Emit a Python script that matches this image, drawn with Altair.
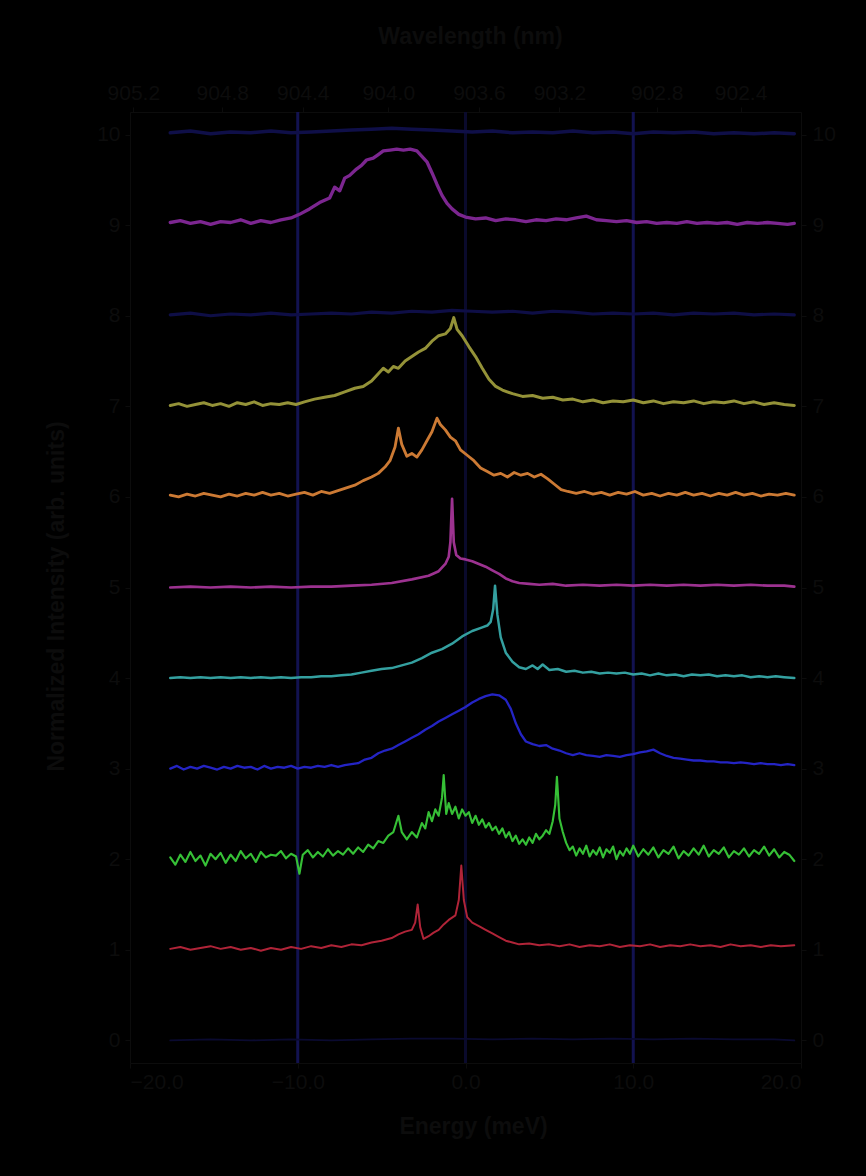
import altair as alt
import pandas as pd

# ---- spectra: (energy offset in meV, normalized signal) pairs, one list per trace ----
trace_10 = [(-17.6, 0.02), (-16.4, 0.04), (-15.2, 0.01), (-14.0, 0.03), (-12.8, 0.02), (-11.6, 0.04),
            (-10.4, 0.02), (-9.2, 0.03), (-8.0, 0.04), (-6.8, 0.05), (-5.6, 0.06), (-4.4, 0.07),
            (-3.2, 0.06), (-2.0, 0.05), (-0.8, 0.04), (0.4, 0.03), (1.6, 0.04), (2.8, 0.02),
            (4.0, 0.03), (5.2, 0.02), (6.4, 0.04), (7.6, 0.02), (8.8, 0.03), (10.0, 0.01),
            (11.2, 0.03), (12.4, 0.02), (13.6, 0.03), (14.8, 0.01), (16.0, 0.02), (17.2, 0.01),
            (18.4, 0.02), (19.6, 0.01)]

trace_9 = [(-17.6, 0.03), (-17.0, 0.05), (-16.4, 0.02), (-15.8, 0.04), (-15.2, 0.01), (-14.6, 0.04),
           (-14.0, 0.03), (-13.4, 0.06), (-12.8, 0.02), (-12.2, 0.05), (-11.6, 0.03), (-11.0, 0.06),
           (-10.4, 0.08), (-9.9, 0.12), (-9.3, 0.18), (-8.7, 0.25), (-8.1, 0.30), (-7.8, 0.42),
           (-7.5, 0.38), (-7.2, 0.52), (-6.9, 0.55), (-6.5, 0.62), (-6.2, 0.66), (-5.9, 0.72),
           (-5.5, 0.74), (-5.2, 0.78), (-4.9, 0.82), (-4.5, 0.83), (-4.1, 0.84), (-3.7, 0.83),
           (-3.3, 0.84), (-2.9, 0.82), (-2.6, 0.76), (-2.3, 0.70), (-2.0, 0.58), (-1.7, 0.45),
           (-1.4, 0.33), (-1.1, 0.24), (-0.8, 0.18), (-0.4, 0.12), (0.0, 0.09), (0.6, 0.07),
           (1.2, 0.08), (1.8, 0.05), (2.4, 0.07), (3.0, 0.06), (3.6, 0.04), (4.2, 0.06),
           (4.8, 0.05), (5.4, 0.07), (6.0, 0.06), (6.6, 0.08), (7.2, 0.10), (7.8, 0.06),
           (8.4, 0.05), (9.0, 0.04), (9.6, 0.05), (10.2, 0.03), (10.8, 0.04), (11.4, 0.02),
           (12.0, 0.03), (12.6, 0.02), (13.2, 0.04), (13.8, 0.02), (14.4, 0.03), (15.0, 0.02),
           (15.6, 0.03), (16.2, 0.01), (16.8, 0.03), (17.4, 0.02), (18.0, 0.03), (18.6, 0.02),
           (19.2, 0.01), (19.6, 0.02)]

trace_8 = [(-17.6, 0.01), (-16.4, 0.03), (-15.2, 0.00), (-14.0, 0.02), (-12.8, 0.01), (-11.6, 0.03),
           (-10.4, 0.01), (-9.2, 0.02), (-8.0, 0.03), (-6.8, 0.02), (-5.6, 0.04), (-4.4, 0.03),
           (-3.2, 0.05), (-2.0, 0.04), (-0.8, 0.06), (0.4, 0.05), (1.6, 0.04), (2.8, 0.05),
           (4.0, 0.03), (5.2, 0.05), (6.4, 0.04), (7.6, 0.02), (8.8, 0.03), (10.0, 0.02),
           (11.2, 0.03), (12.4, 0.01), (13.6, 0.03), (14.8, 0.02), (16.0, 0.03), (17.2, 0.01),
           (18.4, 0.02), (19.6, 0.01)]

trace_7 = [(-17.6, 0.01), (-17.1, 0.03), (-16.6, 0.00), (-16.1, 0.02), (-15.6, 0.04), (-15.1, 0.01),
           (-14.6, 0.03), (-14.1, 0.00), (-13.6, 0.04), (-13.1, 0.02), (-12.6, 0.05), (-12.1, 0.01),
           (-11.6, 0.03), (-11.1, 0.02), (-10.6, 0.04), (-10.1, 0.02), (-9.6, 0.05), (-9.0, 0.08),
           (-8.4, 0.10), (-7.8, 0.12), (-7.2, 0.16), (-6.6, 0.20), (-6.1, 0.22), (-5.6, 0.28),
           (-5.2, 0.36), (-4.9, 0.42), (-4.6, 0.38), (-4.3, 0.44), (-4.0, 0.42), (-3.6, 0.50),
           (-3.2, 0.55), (-2.8, 0.60), (-2.4, 0.64), (-2.0, 0.72), (-1.6, 0.78), (-1.2, 0.80),
           (-0.9, 0.86), (-0.7, 0.98), (-0.5, 0.85), (-0.2, 0.78), (0.2, 0.66), (0.6, 0.55),
           (1.0, 0.42), (1.4, 0.30), (1.8, 0.22), (2.2, 0.18), (2.8, 0.14), (3.4, 0.11),
           (4.0, 0.12), (4.6, 0.09), (5.2, 0.10), (5.8, 0.07), (6.4, 0.08), (7.0, 0.05),
           (7.6, 0.07), (8.2, 0.04), (8.8, 0.06), (9.4, 0.05), (10.0, 0.07), (10.6, 0.04),
           (11.2, 0.06), (11.8, 0.03), (12.4, 0.05), (13.0, 0.04), (13.6, 0.06), (14.2, 0.03),
           (14.8, 0.05), (15.4, 0.04), (16.0, 0.06), (16.6, 0.03), (17.2, 0.05), (17.8, 0.02),
           (18.4, 0.04), (19.0, 0.02), (19.6, 0.01)]

trace_6 = [(-17.6, 0.02), (-17.1, 0.00), (-16.6, 0.03), (-16.1, 0.01), (-15.6, 0.04), (-15.1, 0.02),
           (-14.6, 0.00), (-14.1, 0.03), (-13.6, 0.01), (-13.1, 0.04), (-12.6, 0.02), (-12.1, 0.05),
           (-11.6, 0.02), (-11.1, 0.04), (-10.6, 0.01), (-10.1, 0.03), (-9.6, 0.05), (-9.1, 0.02),
           (-8.6, 0.06), (-8.1, 0.04), (-7.6, 0.07), (-7.1, 0.10), (-6.6, 0.13), (-6.1, 0.18),
           (-5.6, 0.22), (-5.2, 0.26), (-4.8, 0.33), (-4.5, 0.40), (-4.2, 0.55), (-4.0, 0.76),
           (-3.8, 0.58), (-3.5, 0.45), (-3.2, 0.48), (-2.9, 0.44), (-2.6, 0.52), (-2.3, 0.62),
           (-2.0, 0.72), (-1.7, 0.87), (-1.5, 0.80), (-1.2, 0.74), (-0.9, 0.66), (-0.6, 0.62),
           (-0.3, 0.52), (0.1, 0.46), (0.5, 0.40), (0.9, 0.32), (1.3, 0.28), (1.7, 0.24),
           (2.1, 0.26), (2.5, 0.22), (2.9, 0.27), (3.3, 0.24), (3.7, 0.26), (4.1, 0.22),
           (4.5, 0.25), (4.9, 0.20), (5.3, 0.14), (5.7, 0.08), (6.1, 0.06), (6.6, 0.04),
           (7.1, 0.06), (7.6, 0.03), (8.1, 0.05), (8.6, 0.02), (9.1, 0.05), (9.6, 0.03),
           (10.1, 0.06), (10.6, 0.02), (11.1, 0.04), (11.6, 0.01), (12.1, 0.04), (12.6, 0.02),
           (13.1, 0.05), (13.6, 0.02), (14.1, 0.04), (14.6, 0.01), (15.1, 0.04), (15.6, 0.02),
           (16.1, 0.05), (16.6, 0.02), (17.1, 0.04), (17.6, 0.01), (18.1, 0.03), (18.6, 0.02),
           (19.1, 0.04), (19.6, 0.02)]

trace_5 = [(-17.6, 0.00), (-16.4, 0.01), (-15.2, 0.00), (-14.0, 0.01), (-12.8, 0.00), (-11.6, 0.01),
           (-10.4, 0.00), (-9.2, 0.01), (-8.0, 0.01), (-6.8, 0.02), (-5.6, 0.03), (-4.4, 0.05),
           (-3.2, 0.09), (-2.2, 0.13), (-1.6, 0.18), (-1.2, 0.26), (-1.0, 0.34), (-0.9, 0.50),
           (-0.8, 0.98), (-0.7, 0.50), (-0.55, 0.36), (-0.3, 0.32), (0.0, 0.31), (0.4, 0.29),
           (0.8, 0.26), (1.2, 0.23), (1.6, 0.19), (2.0, 0.15), (2.4, 0.10), (2.8, 0.07),
           (3.2, 0.05), (3.8, 0.04), (4.4, 0.03), (5.2, 0.04), (6.0, 0.02), (7.0, 0.03),
           (8.0, 0.02), (9.0, 0.03), (10.0, 0.02), (11.0, 0.03), (12.0, 0.02), (13.0, 0.03),
           (14.0, 0.02), (15.0, 0.03), (16.0, 0.02), (17.0, 0.03), (18.0, 0.02), (19.0, 0.02),
           (19.6, 0.01)]

trace_4 = [(-17.6, 0.00), (-17.0, 0.01), (-16.4, 0.00), (-15.8, 0.01), (-15.2, 0.00), (-14.6, 0.01),
           (-14.0, 0.00), (-13.4, 0.01), (-12.8, 0.00), (-12.2, 0.01), (-11.6, 0.00), (-11.0, 0.01),
           (-10.4, 0.00), (-9.8, 0.01), (-9.2, 0.01), (-8.6, 0.02), (-8.0, 0.02), (-7.4, 0.03),
           (-6.8, 0.04), (-6.2, 0.06), (-5.6, 0.08), (-5.0, 0.10), (-4.4, 0.11), (-3.8, 0.14),
           (-3.2, 0.17), (-2.6, 0.22), (-2.0, 0.28), (-1.4, 0.32), (-0.8, 0.38), (-0.2, 0.46),
           (0.4, 0.52), (1.0, 0.56), (1.3, 0.58), (1.5, 0.62), (1.65, 0.76), (1.76, 1.02),
           (1.9, 0.70), (2.1, 0.45), (2.4, 0.28), (2.8, 0.18), (3.2, 0.12), (3.6, 0.10),
           (4.0, 0.14), (4.3, 0.10), (4.6, 0.15), (5.0, 0.09), (5.5, 0.10), (6.0, 0.07),
           (6.5, 0.08), (7.0, 0.06), (7.5, 0.07), (8.0, 0.05), (8.5, 0.06), (9.0, 0.05),
           (9.5, 0.06), (10.0, 0.04), (10.5, 0.05), (11.0, 0.03), (11.5, 0.05), (12.0, 0.03),
           (12.5, 0.04), (13.0, 0.02), (13.5, 0.04), (14.0, 0.03), (14.5, 0.04), (15.0, 0.02),
           (15.5, 0.03), (16.0, 0.02), (16.5, 0.03), (17.0, 0.01), (17.5, 0.02), (18.0, 0.01),
           (18.5, 0.02), (19.0, 0.01), (19.6, 0.00)]

trace_3 = [(-17.6, 0.00), (-17.2, 0.03), (-16.8, -0.01), (-16.4, 0.02), (-16.0, 0.00), (-15.6, 0.03),
           (-15.2, 0.01), (-14.8, -0.01), (-14.4, 0.02), (-14.0, 0.00), (-13.6, 0.03), (-13.2, 0.01),
           (-12.8, 0.02), (-12.4, -0.01), (-12.0, 0.03), (-11.6, 0.00), (-11.2, 0.02), (-10.8, 0.01),
           (-10.4, 0.03), (-10.0, 0.00), (-9.6, 0.02), (-9.2, 0.01), (-8.8, 0.03), (-8.4, 0.02),
           (-8.0, 0.04), (-7.6, 0.02), (-7.2, 0.04), (-6.8, 0.05), (-6.4, 0.06), (-6.0, 0.10),
           (-5.6, 0.12), (-5.2, 0.17), (-4.8, 0.20), (-4.4, 0.22), (-4.0, 0.26), (-3.6, 0.30),
           (-3.2, 0.34), (-2.8, 0.38), (-2.4, 0.43), (-2.0, 0.47), (-1.6, 0.52), (-1.2, 0.56),
           (-0.8, 0.60), (-0.4, 0.64), (0.0, 0.68), (0.4, 0.73), (0.8, 0.77), (1.2, 0.80),
           (1.6, 0.82), (2.0, 0.81), (2.4, 0.76), (2.7, 0.66), (3.0, 0.50), (3.3, 0.38),
           (3.6, 0.30), (4.0, 0.27), (4.4, 0.25), (4.8, 0.26), (5.2, 0.22), (5.6, 0.20),
           (6.0, 0.17), (6.4, 0.15), (6.8, 0.17), (7.2, 0.15), (7.6, 0.14), (8.0, 0.13),
           (8.4, 0.15), (8.8, 0.14), (9.2, 0.13), (9.6, 0.15), (10.0, 0.16), (10.4, 0.18),
           (10.8, 0.19), (11.2, 0.21), (11.6, 0.17), (12.0, 0.14), (12.4, 0.12), (12.8, 0.11),
           (13.2, 0.10), (13.6, 0.09), (14.0, 0.09), (14.4, 0.08), (14.8, 0.08), (15.2, 0.07),
           (15.6, 0.07), (16.0, 0.06), (16.4, 0.07), (16.8, 0.06), (17.2, 0.05), (17.6, 0.06),
           (18.0, 0.05), (18.4, 0.05), (18.8, 0.04), (19.2, 0.05), (19.6, 0.04)]

trace_2 = [(-17.6, 0.02), (-17.3, -0.06), (-17.0, 0.05), (-16.7, -0.03), (-16.4, 0.08), (-16.1, -0.02),
           (-15.8, 0.04), (-15.5, -0.07), (-15.2, 0.06), (-14.9, 0.00), (-14.6, 0.07), (-14.3, -0.04),
           (-14.0, 0.05), (-13.7, -0.02), (-13.4, 0.09), (-13.1, 0.01), (-12.8, 0.06), (-12.5, -0.03),
           (-12.2, 0.08), (-11.9, 0.02), (-11.6, 0.05), (-11.3, 0.04), (-11.0, 0.09), (-10.7, 0.01),
           (-10.4, 0.06), (-10.1, 0.03), (-9.9, -0.16), (-9.7, 0.05), (-9.4, 0.10), (-9.1, 0.02),
           (-8.8, 0.08), (-8.5, 0.03), (-8.2, 0.11), (-7.9, 0.04), (-7.6, 0.09), (-7.3, 0.05),
           (-7.0, 0.12), (-6.7, 0.06), (-6.4, 0.13), (-6.1, 0.08), (-5.8, 0.16), (-5.5, 0.12),
           (-5.2, 0.20), (-4.9, 0.18), (-4.6, 0.26), (-4.3, 0.30), (-4.0, 0.48), (-3.8, 0.30),
           (-3.5, 0.22), (-3.2, 0.30), (-2.9, 0.24), (-2.6, 0.40), (-2.4, 0.34), (-2.2, 0.52),
           (-2.0, 0.42), (-1.8, 0.55), (-1.6, 0.48), (-1.4, 0.68), (-1.3, 0.93), (-1.15, 0.50),
           (-1.0, 0.62), (-0.8, 0.50), (-0.6, 0.58), (-0.4, 0.45), (-0.2, 0.55), (0.0, 0.48),
           (0.2, 0.52), (0.4, 0.40), (0.6, 0.48), (0.8, 0.38), (1.0, 0.44), (1.2, 0.35),
           (1.4, 0.40), (1.6, 0.32), (1.8, 0.36), (2.0, 0.28), (2.2, 0.34), (2.4, 0.24),
           (2.6, 0.30), (2.8, 0.20), (3.0, 0.26), (3.2, 0.17), (3.4, 0.22), (3.6, 0.16),
           (3.8, 0.24), (4.0, 0.18), (4.2, 0.28), (4.4, 0.22), (4.6, 0.26), (4.8, 0.32),
           (5.0, 0.28), (5.2, 0.42), (5.35, 0.60), (5.45, 0.91), (5.6, 0.45), (5.8, 0.30),
           (6.0, 0.18), (6.2, 0.10), (6.4, 0.14), (6.6, 0.04), (6.8, 0.12), (7.0, 0.06),
           (7.2, 0.15), (7.4, 0.03), (7.6, 0.10), (7.8, 0.05), (8.0, 0.13), (8.2, 0.02),
           (8.4, 0.11), (8.6, 0.07), (8.8, 0.14), (9.0, 0.00), (9.2, 0.09), (9.4, 0.04),
           (9.6, 0.12), (9.8, 0.06), (10.0, 0.15), (10.3, 0.03), (10.6, 0.11), (10.9, 0.05),
           (11.2, 0.13), (11.5, 0.02), (11.8, 0.10), (12.1, 0.06), (12.4, 0.14), (12.7, 0.01),
           (13.0, 0.09), (13.3, 0.04), (13.6, 0.12), (13.9, 0.05), (14.2, 0.15), (14.5, 0.03),
           (14.8, 0.10), (15.1, 0.06), (15.4, 0.13), (15.7, 0.02), (16.0, 0.09), (16.3, 0.05),
           (16.6, 0.12), (16.9, 0.03), (17.2, 0.10), (17.5, 0.06), (17.8, 0.14), (18.1, 0.04),
           (18.4, 0.11), (18.7, 0.02), (19.0, 0.08), (19.3, 0.05), (19.6, -0.02)]

trace_1 = [(-17.6, 0.01), (-17.0, 0.03), (-16.4, 0.00), (-15.8, 0.02), (-15.2, 0.04), (-14.6, 0.01),
           (-14.0, 0.03), (-13.4, 0.00), (-12.8, 0.02), (-12.2, -0.01), (-11.6, 0.02), (-11.0, 0.00),
           (-10.4, 0.03), (-9.8, 0.01), (-9.2, 0.04), (-8.6, 0.02), (-8.0, 0.05), (-7.4, 0.03),
           (-6.8, 0.06), (-6.2, 0.05), (-5.6, 0.08), (-5.0, 0.10), (-4.4, 0.13), (-4.0, 0.17),
           (-3.6, 0.20), (-3.2, 0.22), (-3.0, 0.30), (-2.85, 0.50), (-2.7, 0.25), (-2.5, 0.12),
           (-2.2, 0.15), (-1.9, 0.19), (-1.6, 0.22), (-1.3, 0.28), (-1.0, 0.33), (-0.6, 0.38),
           (-0.4, 0.55), (-0.25, 0.93), (-0.1, 0.55), (0.1, 0.36), (0.4, 0.30), (0.8, 0.26),
           (1.2, 0.22), (1.6, 0.18), (2.0, 0.14), (2.4, 0.10), (2.8, 0.08), (3.2, 0.06),
           (3.8, 0.07), (4.4, 0.05), (5.0, 0.06), (5.6, 0.04), (6.2, 0.06), (6.8, 0.03),
           (7.4, 0.05), (8.0, 0.04), (8.6, 0.06), (9.2, 0.03), (9.8, 0.05), (10.4, 0.04),
           (11.0, 0.06), (11.6, 0.03), (12.2, 0.05), (12.8, 0.04), (13.4, 0.06), (14.0, 0.04),
           (14.6, 0.05), (15.2, 0.03), (15.8, 0.06), (16.4, 0.04), (17.0, 0.05), (17.6, 0.03),
           (18.2, 0.05), (18.8, 0.04), (19.6, 0.05)]

trace_0 = [(-17.6, 0.00), (-15.2, 0.01), (-12.8, 0.00), (-10.4, 0.01), (-8.0, 0.00), (-5.6, 0.01),
           (-3.2, 0.02), (-0.8, 0.02), (1.6, 0.01), (4.0, 0.02), (6.4, 0.01), (8.8, 0.02),
           (11.2, 0.01), (13.6, 0.02), (16.0, 0.01), (18.4, 0.01), (19.6, 0.00)]

traces = [trace_10, trace_9, trace_8, trace_7, trace_6, trace_5,
          trace_4, trace_3, trace_2, trace_1, trace_0]
offsets = [10, 9, 8, 7, 6, 5, 4, 3, 2, 1, 0]
series_names = ["S10", "S9", "S8", "S7", "S6", "S5", "S4", "S3", "S2", "S1", "S0"]
series_colors = ["#0f0f48", "#7c2690", "#0e0e46", "#949238", "#cc7a34", "#9c3290",
                 "#34a0a0", "#2424c4", "#36c036", "#b02438", "#0a0a30"]
series_widths = [3.5, 1.8, 3.5, 1.8, 1.8, 1.8, 1.8, 3.0, 1.6, 1.8, 3.5]

# ---- axis ticks and reference lines ----
y_ticks = list(range(0, 11))
bottom_ticks = [-20, -10, 0, 10, 20]
top_tick_pos = [-19.8, -14.5, -9.7, -4.6, 0.8, 5.6, 11.4, 16.4]
top_tick_labels = ["905.2", "904.8", "904.4", "904.0", "903.6", "903.2", "902.8", "902.4"]
marker_lines = [-10, 10]
center_line = [0]

TEXT = "#0c0c0c"
MARKER = "#121250"
FONT = "Liberation Sans"

rows = []
for name, off, pts in zip(series_names, offsets, traces):
    for x, v in pts:
        rows.append({"series": name, "energy": x, "signal": v + off})
df = pd.DataFrame(rows)

x_scale = alt.Scale(domain=[-20, 20], nice=False, zero=False)
y_scale = alt.Scale(domain=[-0.25, 10.25], nice=False, zero=False)

color_enc = alt.Color("series:N", scale=alt.Scale(domain=series_names, range=series_colors), legend=None)
width_enc = alt.StrokeWidth("series:N", scale=alt.Scale(domain=series_names, range=series_widths),
                            legend=None)

axis_common = dict(labelColor=TEXT, titleColor=TEXT, tickColor=TEXT, domainColor=TEXT,
                   labelFont=FONT, titleFont=FONT, labelFontSize=21, titleFontSize=23,
                   titleFontWeight="bold", tickSize=5, grid=False)

# top-axis label lookup built from the tick lists
top_expr = "''"
for p, lab in reversed(list(zip(top_tick_pos, top_tick_labels))):
    top_expr = f"abs(datum.value - ({p})) < 0.05 ? '{lab}' : {top_expr}"

markers = alt.Chart(pd.DataFrame({"energy": marker_lines})).mark_rule(
    color=MARKER, strokeWidth=3
).encode(x=alt.X("energy:Q", scale=x_scale, axis=None))

center = alt.Chart(pd.DataFrame({"energy": center_line})).mark_rule(
    color="#0a0a2c", strokeWidth=3
).encode(x=alt.X("energy:Q", scale=x_scale, axis=None))

lines = alt.Chart(df).mark_line(strokeCap="round", strokeJoin="round").encode(
    x=alt.X("energy:Q", scale=x_scale,
            axis=alt.Axis(orient="bottom", values=bottom_ticks, format=".1f",
                          title="Energy (meV)", labelPadding=3, titleX=343, titleY=63,
                          titleBaseline="middle", **axis_common)),
    y=alt.Y("signal:Q", scale=y_scale,
            axis=alt.Axis(orient="left", values=y_ticks,
                          title="Normalized Intensity (arb. units)", labelPadding=5,
                          titleX=-74, titleY=484, titleAngle=270, titleAlign="center",
                          titleBaseline="middle", **axis_common)),
    color=color_enc,
    strokeWidth=width_enc,
    detail="series:N",
)

top_axis = alt.Chart(df).mark_line(strokeOpacity=0).encode(
    x=alt.X("energy:Q", scale=x_scale,
            axis=alt.Axis(orient="top", values=top_tick_pos, labelExpr=top_expr,
                          title="Wavelength (nm)", labelPadding=4,
                          titleX=340, titleY=-76, titleBaseline="middle", **axis_common)),
    y=alt.Y("signal:Q", scale=y_scale, axis=None),
    detail="series:N",
)

right_axis = alt.Chart(df).mark_line(strokeOpacity=0).encode(
    x=alt.X("energy:Q", scale=x_scale, axis=None),
    y=alt.Y("signal:Q", scale=y_scale,
            axis=alt.Axis(orient="right", values=y_ticks, title="",
                          labelPadding=6, **axis_common)),
    detail="series:N",
)

chart = alt.layer(markers, center, lines, top_axis, right_axis).resolve_axis(
    x="independent", y="independent"
).properties(
    width=671,
    height=951,
    autosize=alt.AutoSizeParams(type="none"),
    padding={"left": 130, "top": 112, "right": 65, "bottom": 113},
    background="#000000",
).configure_view(strokeWidth=0)

chart.save("out.html", embed_options={"renderer": "svg", "actions": False})
